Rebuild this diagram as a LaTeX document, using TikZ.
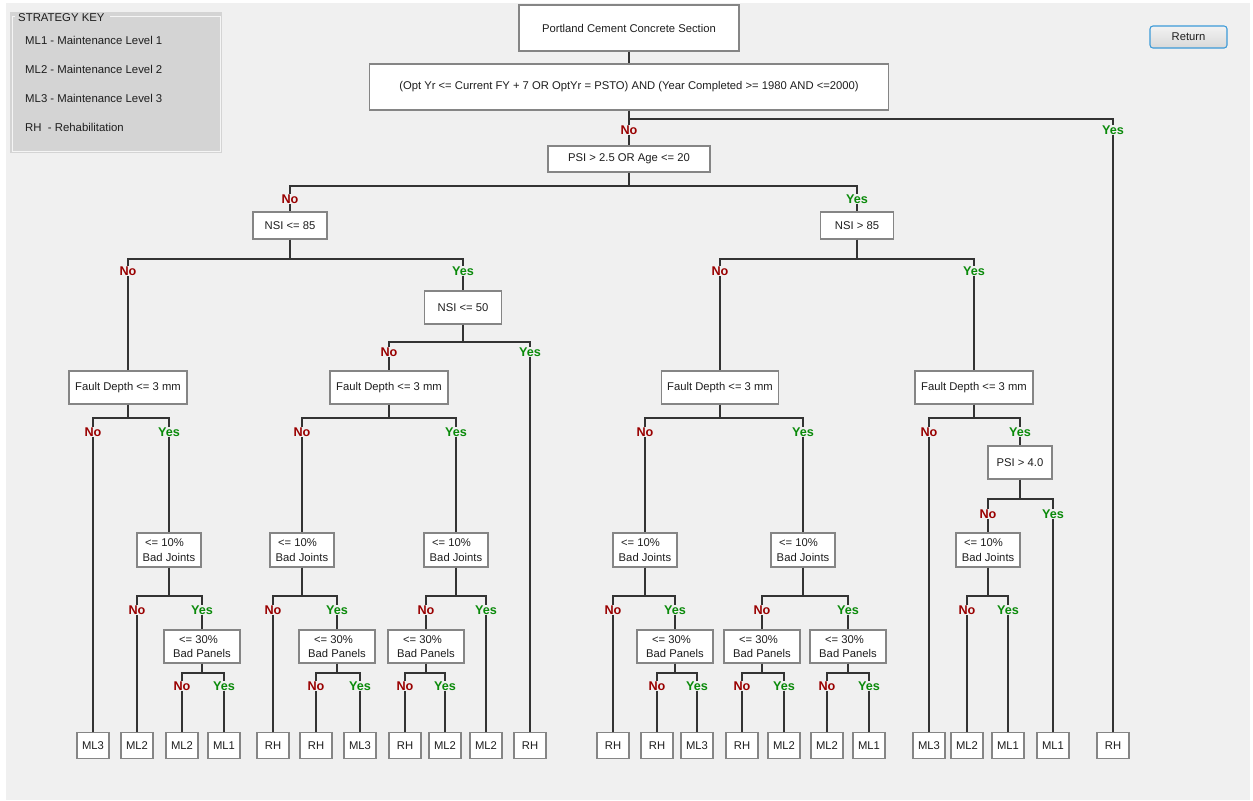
\documentclass[tikz,border=0pt]{standalone}
\usepackage{fontspec}
\setmainfont{Liberation Sans}
\definecolor{bg}{HTML}{F0F0F0}
\definecolor{nocol}{HTML}{990000}
\definecolor{yescol}{HTML}{0A8A0A}
\definecolor{boxline}{HTML}{858585}
\definecolor{conn}{HTML}{333333}
\definecolor{keyfill}{HTML}{D4D4D4}
\definecolor{txt}{HTML}{1E1E1E}
\definecolor{btnblue}{HTML}{3C9AD8}
\newcommand\bxfont{\fontsize{9.6}{12.6}\selectfont}
\newcommand\lbfont{\fontsize{10.8}{12}\selectfont\bfseries}
\newcommand\kyfont{\fontsize{9.7}{12}\selectfont}
\newcommand\tedge[3]{\draw[ln] (#1.south) -- (#1.south |- 0,#3) -| (#2.north);}
\newcommand\NoLab[2]{\node[nolab] (no#1) at (#1.north |- 0,#2) {No};}
\newcommand\YesLab[2]{\node[yeslab] (yes#1) at (#1.north |- 0,#2) {Yes};}
\tikzset{
  ln/.style={draw=conn, line width=0.95pt},
  bx/.style 2 args={draw=boxline, line width=1.1pt, fill=white, inner sep=0pt,
    minimum width=#1*0.03cm, minimum height=#2*0.03cm, font=\bxfont, text=txt, align=left},
  leaf/.style={bx={32}{26}},
  nolab/.style={fill=bg, inner sep=0.6pt, text=nocol, font=\lbfont},
  yeslab/.style={fill=bg, inner sep=0.6pt, text=yescol, font=\lbfont},
  keytxt/.style={anchor=west, inner sep=0pt, font=\kyfont, text=txt},
}
\begin{document}
\begin{tikzpicture}[x=0.03cm,y=-0.03cm]
\useasboundingbox (0,0) rectangle (1253,800);
\fill[white] (0,0) rectangle (1253,800);
\fill[bg] (6,3) rectangle (1250,800);

% strategy key panel
\fill[keyfill] (10,12) rectangle (222,153);
\draw[white!96!black, line width=0.8pt] (15,16) -- (12,16) -- (12,151) -- (220,151) -- (220,16) -- (110,16);
\node[keytxt] (ktitle) at (18,18) {STRATEGY KEY};
\node[keytxt] (k1) at (25,40) {ML1 - Maintenance Level 1};
\node[keytxt] (k2) at (25,69) {ML2 - Maintenance Level 2};
\node[keytxt] (k3) at (25,98) {ML3 - Maintenance Level 3};
\node[keytxt] (k4) at (25,127) {RH\ \ - Rehabilitation};

% return button
\node[draw=btnblue, line width=0.9pt, rounded corners=2.5pt, top color=white!95!black, bottom color=white!85!black,
  minimum width=77*0.03cm, minimum height=22*0.03cm, inner sep=0pt, font=\bxfont, text=txt] (ret) at (1188.5,37) {Return};

% decision boxes
\node[bx={220}{46}] (T) at (629,28) {Portland Cement Concrete Section};
\node[bx={519}{46}] (C0) at (629,87) {(Opt Yr <= Current FY + 7 OR OptYr = PSTO) AND (Year Completed >= 1980 AND <=2000)};
\node[bx={162}{26}] (PSI) at (629,159) {PSI > 2.5 OR Age <= 20};
\node[bx={74}{27}] (N85) at (290,225.5) {NSI <= 85};
\node[bx={73}{27}] (N85b) at (857,225.5) {NSI > 85};
\node[bx={77}{33}] (N50) at (463,307.5) {NSI <= 50};
\node[bx={118}{33}] (FD1) at (128,387.5) {Fault Depth <= 3 mm};
\node[bx={118}{33}] (FD2) at (389,387.5) {Fault Depth <= 3 mm};
\node[bx={117}{33}] (FD3) at (720,387.5) {Fault Depth <= 3 mm};
\node[bx={118}{33}] (FD4) at (974,387.5) {Fault Depth <= 3 mm};
\node[bx={64}{33}] (P4) at (1020,462.5) {PSI > 4.0};
\foreach \n/\x in {BJ1/169,BJ2/302,BJ3/456,BJ4/645,BJ5/803,BJ6/988}
  \node[bx={64}{34}] (\n) at (\x,550) {\hspace*{2pt}<= 10\%\\Bad Joints};
\foreach \n/\x in {BP1/202,BP2/337,BP3/426,BP4/675,BP5/762,BP6/848}
  \node[bx={76}{33}] (\n) at (\x,646.5) {\hspace*{5pt}<= 30\%\\Bad Panels};

% leaves
\foreach \n/\x/\t in {L1/93/ML3,L2/137/ML2,L3/182/ML2,L4/224/ML1,L5/273/RH,L6/316/RH,L7/360/ML3,
  L8/405/RH,L9/445/ML2,L10/486/ML2,L11/530/RH,L12/613/RH,L13/657/RH,L14/697/ML3,L15/742/RH,
  L16/784/ML2,L17/827/ML2,L18/869/ML1,L19/929/ML3,L20/967/ML2,L21/1008/ML1,L22/1053/ML1,L23/1113/RH}
  \node[leaf] (\n) at (\x,745.5) {\t};

% connectors
\draw[ln] (T.south) -- (C0.north);
\tedge{C0}{PSI}{119} \tedge{C0}{L23}{119}
\tedge{PSI}{N85}{186} \tedge{PSI}{N85b}{186}
\tedge{N85}{FD1}{259} \tedge{N85}{N50}{259}
\tedge{N85b}{FD3}{259} \tedge{N85b}{FD4}{259}
\tedge{N50}{FD2}{342} \tedge{N50}{L11}{342}
\tedge{FD1}{L1}{418} \tedge{FD1}{BJ1}{418}
\tedge{FD2}{BJ2}{418} \tedge{FD2}{BJ3}{418}
\tedge{FD3}{BJ4}{418} \tedge{FD3}{BJ5}{418}
\tedge{FD4}{L19}{418} \tedge{FD4}{P4}{418}
\tedge{P4}{BJ6}{499} \tedge{P4}{L22}{499}
\tedge{BJ1}{L2}{596} \tedge{BJ1}{BP1}{596}
\tedge{BJ2}{L5}{596} \tedge{BJ2}{BP2}{596}
\tedge{BJ3}{BP3}{596} \tedge{BJ3}{L10}{596}
\tedge{BJ4}{L12}{596} \tedge{BJ4}{BP4}{596}
\tedge{BJ5}{BP5}{596} \tedge{BJ5}{BP6}{596}
\tedge{BJ6}{L20}{596} \tedge{BJ6}{L21}{596}
\tedge{BP1}{L3}{673} \tedge{BP1}{L4}{673}
\tedge{BP2}{L6}{673} \tedge{BP2}{L7}{673}
\tedge{BP3}{L8}{673} \tedge{BP3}{L9}{673}
\tedge{BP4}{L13}{673} \tedge{BP4}{L14}{673}
\tedge{BP5}{L15}{673} \tedge{BP5}{L16}{673}
\tedge{BP6}{L17}{673} \tedge{BP6}{L18}{673}

% branch labels
\NoLab{PSI}{130} \YesLab{L23}{130}
\NoLab{N85}{199} \YesLab{N85b}{199}
\NoLab{FD1}{271} \YesLab{N50}{271}
\NoLab{FD3}{271} \YesLab{FD4}{271}
\NoLab{FD2}{352} \YesLab{L11}{352}
\NoLab{L1}{432} \YesLab{BJ1}{432}
\NoLab{BJ2}{432} \YesLab{BJ3}{432}
\NoLab{BJ4}{432} \YesLab{BJ5}{432}
\NoLab{L19}{432} \YesLab{P4}{432}
\NoLab{BJ6}{514} \YesLab{L22}{514}
\NoLab{L2}{610} \YesLab{BP1}{610}
\NoLab{L5}{610} \YesLab{BP2}{610}
\NoLab{BP3}{610} \YesLab{L10}{610}
\NoLab{L12}{610} \YesLab{BP4}{610}
\NoLab{BP5}{610} \YesLab{BP6}{610}
\NoLab{L20}{610} \YesLab{L21}{610}
\NoLab{L3}{686} \YesLab{L4}{686}
\NoLab{L6}{686} \YesLab{L7}{686}
\NoLab{L8}{686} \YesLab{L9}{686}
\NoLab{L13}{686} \YesLab{L14}{686}
\NoLab{L15}{686} \YesLab{L16}{686}
\NoLab{L17}{686} \YesLab{L18}{686}
\end{tikzpicture}
\end{document}
